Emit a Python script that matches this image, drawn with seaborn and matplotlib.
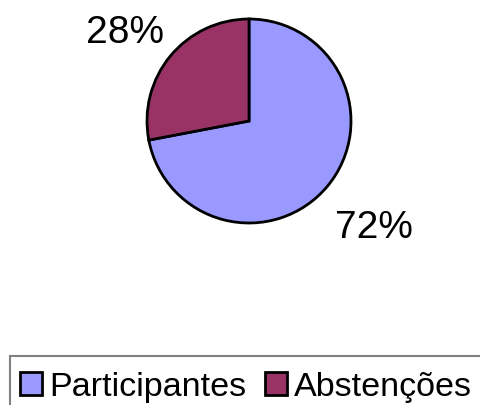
import matplotlib
matplotlib.use("Agg")
import matplotlib.pyplot as plt
from matplotlib.patches import Rectangle
import seaborn as sns

categories = ["Participantes", "Abstenções"]
values = [72, 28]
colors = ["#9999FF", "#993366"]

sns.set_style("white")
plt.rcParams['font.family'] = ['Liberation Sans', 'DejaVu Sans']

W, H = 481, 406
fig = plt.figure(figsize=(W / 100, H / 100), dpi=100)
cx, cy, r = 249, 122, 102
ax = fig.add_axes([(cx - r) / W, (H - cy - r) / H, 2 * r / W, 2 * r / H])
pal = sns.color_palette(colors)
wedges, texts, autotexts = ax.pie(
    values, colors=pal, startangle=90, counterclock=False,
    autopct=lambda p: f"{p:.0f}%", pctdistance=1.55,
    wedgeprops=dict(edgecolor="black", linewidth=2.0),
    textprops=dict(fontsize=28, color="black"),
)
# label placement relative to pie (data units)
label_pos = [(1.22, -1.04), (-1.22, 0.87)]
for t, pos in zip(autotexts, label_pos):
    t.set_position(pos)
ax.set_xlim(-1, 1)
ax.set_ylim(-1, 1)
ax.set_aspect("equal")
ax.axis("off")

leg = fig.legend(
    wedges, categories, loc="upper left",
    bbox_to_anchor=(10 / W, 1 - 362 / H), ncol=2,
    fontsize=24.6, frameon=False, labelcolor="black",
    handlelength=0.65, handleheight=0.65, handletextpad=0.2,
    columnspacing=0.55, borderpad=0.3, borderaxespad=0,
)
for h in leg.legend_handles:
    h.set_edgecolor("black")
    h.set_linewidth(2.0)

# legend box (extends past the right and bottom edges, as in the reference)
fig.patches.append(Rectangle((10 / W, -0.1), 1.2, 1 - 357 / H + 0.1,
                             transform=fig.transFigure, fill=False,
                             edgecolor="#808080", linewidth=1.5))

fig.savefig("out.png", dpi=100)
